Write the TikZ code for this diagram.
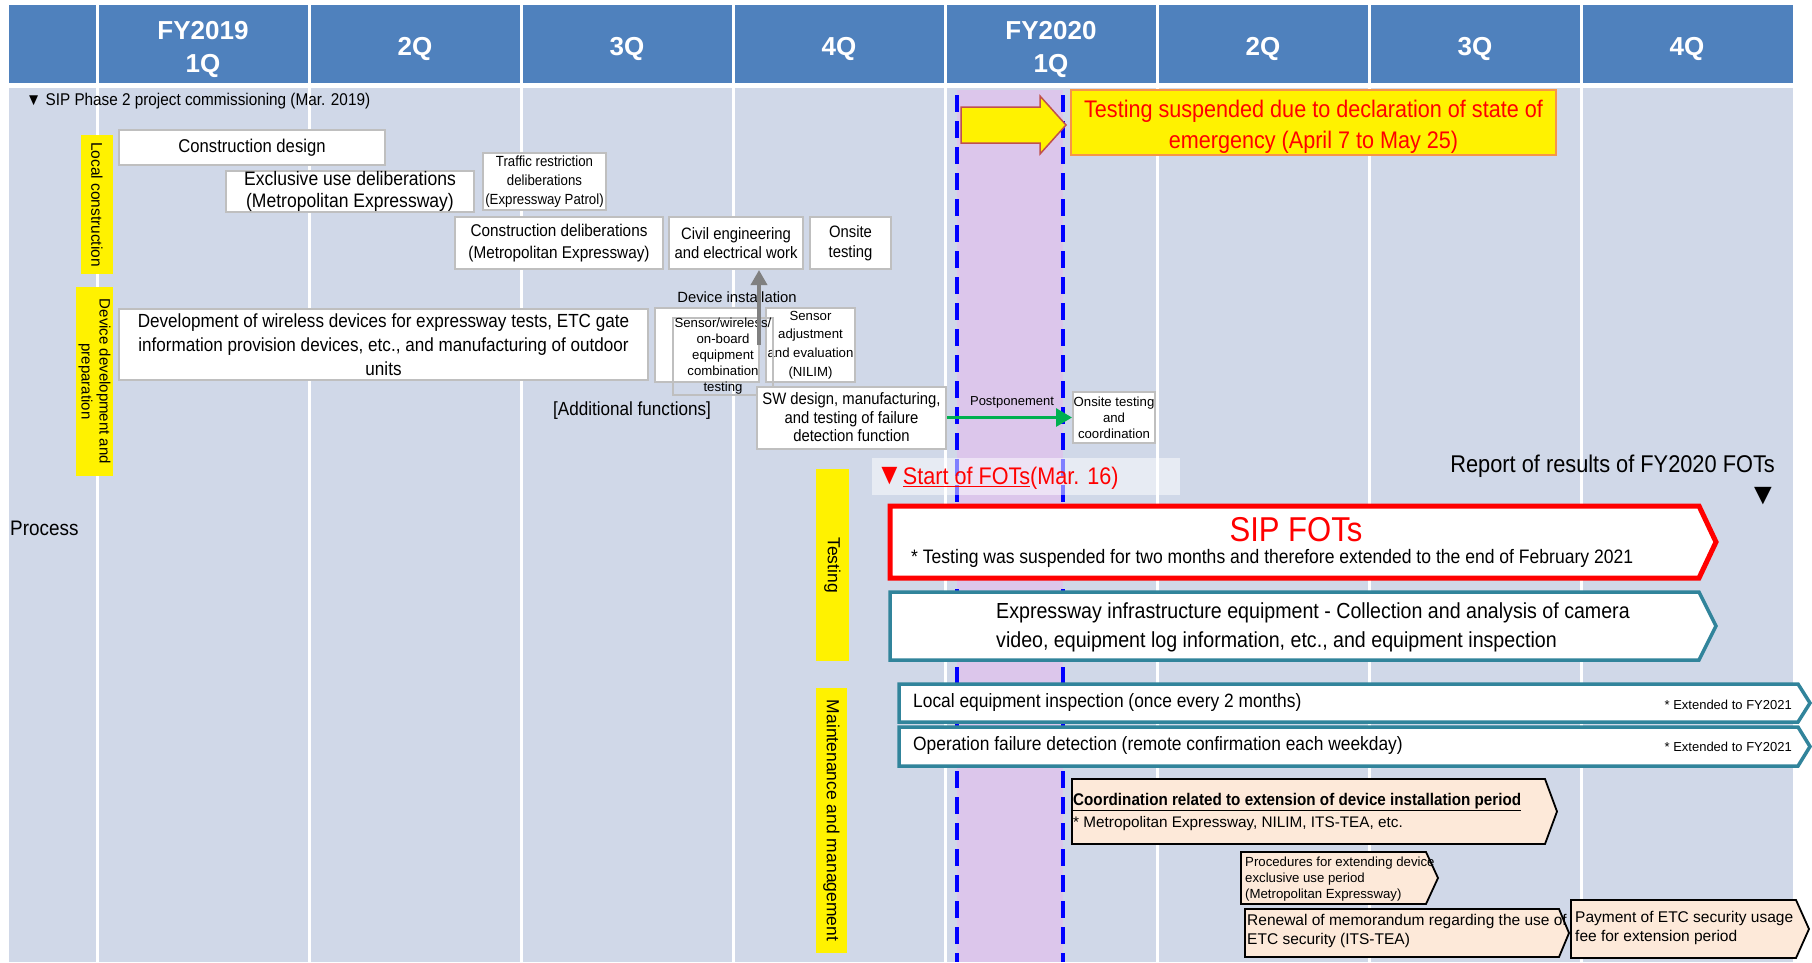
\documentclass[tikz,border=0pt]{standalone}
\usepackage{fontspec}
\setmainfont{Liberation Sans}
\newfontfamily\nfont[FakeStretch=0.9]{Liberation Sans}
\usetikzlibrary{arrows.meta}
\definecolor{hdrblue}{RGB}{79,129,189}
\definecolor{bodybg}{RGB}{208,216,232}
\definecolor{suspend}{RGB}{220,198,235}
\definecolor{boxgray}{RGB}{191,191,191}
\definecolor{notebrd}{RGB}{247,150,70}
\definecolor{arrbrd}{RGB}{192,80,77}
\definecolor{fotteal}{RGB}{49,132,155}
\definecolor{peach}{RGB}{253,233,217}
\definecolor{postgreen}{RGB}{0,176,80}
\newcommand{\fsz}[2]{\fontsize{#1}{#2}\selectfont}
% arrow-shaped box: style, left, top, body end, tip, bottom
\newcommand{\chev}[6]{\draw[#1] (#2,#3) -- (#4,#3) -- (#5,{(#3+#6)/2}) -- (#4,#6) -- (#2,#6) -- cycle;}
\tikzset{
  hdrtxt/.style={text=white, font=\bfseries\fsz{26}{33}, align=center, inner sep=0},
  tx/.style={inner sep=0, align=center},
  wbox/.style={draw=boxgray, line width=2, fill=white, align=center, inner sep=0},
  ylab/.style={fill=yellow, rotate=-90, inner sep=0, align=center},
  dashln/.style={blue, line width=3.5, dash pattern=on 17 off 9},
  sipchev/.style={draw=red, line width=5, fill=white},
  tealchev/.style={draw=fotteal, line width=3.5, fill=white},
  peachchev/.style={draw=black, line width=1.8, fill=peach},
}
\begin{document}
\begin{tikzpicture}[x=1pt,y=-1pt]
\useasboundingbox (0,0) rectangle (1812,962);
% table
\fill[hdrblue] (9,5) rectangle (1793,83);
\fill[bodybg] (9,88) rectangle (1793,962);
\foreach \cx in {97,309,...,1581}{
  \draw[white, line width=3] (\cx,5) -- (\cx,962);
}
\foreach \q [count=\i] in {{FY2019\\1Q},2Q,3Q,4Q,{FY2020\\1Q},2Q,3Q,4Q}
  \node[hdrtxt] (hq\i) at ({212*\i-9},49) {\q};

% suspension period
\fill[suspend] (957,90) rectangle (1063,962);
\draw[dashln] (957,95) -- (957,962);
\draw[dashln] (1063,95) -- (1063,962);

\node[tx, anchor=west, font=\nfont\fsz{17}{20}] (commis) at (26,101) {▼ SIP Phase 2 project commissioning (Mar. 2019)};
\node[tx, anchor=west, font=\nfont\fsz{21}{25}] (process) at (10,528) {Process};

% yellow labels
\node[ylab, minimum width=139, minimum height=32, font=\fsz{15.5}{19}] (lblocal) at (97,204.5) {Local construction};
\node[ylab, minimum width=189, minimum height=37, font=\fsz{15}{18}] (lbldev) at (94.5,381.5) {Device development and\\preparation};
\node[ylab, minimum width=192, minimum height=33, font=\fsz{17.5}{21}] (lbltest) at (832.5,565) {Testing};
\node[ylab, minimum width=265, minimum height=31, font=\fsz{17.5}{21}] (lblmaint) at (831.5,820.5) {Maintenance and management};

% local construction
\node[wbox, minimum width=266, minimum height=35, font=\nfont\fsz{18.5}{22}] (cdesign) at (252,147.5) {Construction design};
\node[wbox, minimum width=248, minimum height=41, font=\nfont\fsz{19.5}{22}] (exuse) at (350,191.5) {Exclusive use deliberations\\(Metropolitan Expressway)};
\node[wbox, minimum width=123, minimum height=57, font=\nfont\fsz{14.7}{19}] (traffic) at (544.5,181.5) {Traffic restriction\\deliberations\\(Expressway Patrol)};
\node[wbox, minimum width=208, minimum height=52, font=\nfont\fsz{17}{22}] (cdelib) at (559,243) {Construction deliberations\\(Metropolitan Expressway)};
\node[wbox, minimum width=134, minimum height=52, font=\nfont\fsz{16.5}{19.5}] (civil) at (736,243) {Civil engineering\\and electrical work};
\node[wbox, minimum width=81, minimum height=52, font=\nfont\fsz{16.5}{19.5}] (onsite) at (850.5,243) {Onsite\\testing};

% device development
\node[wbox, minimum width=529, minimum height=71, font=\nfont\fsz{19}{24}] (devbox) at (383.5,344.5) {Development of wireless devices for expressway tests, ETC gate\\information provision devices, etc., and manufacturing of outdoor\\units};
\node[tx, font=\fsz{14.8}{18}] (devinst) at (737,297) {Device installation};
\node[wbox, minimum width=104, minimum height=74] (sensorbg) at (707,345) {};
\node[wbox, minimum width=89, minimum height=74, font=\fsz{13.2}{18.7}] (sensoradj) at (810.5,345) {Sensor\\adjustment\\and evaluation\\(NILIM)};
\node[draw=boxgray, line width=2, tx, minimum width=100, minimum height=73, font=\fsz{13.2}{16}] (combtest) at (723,356.5) {Sensor/wireless/\\on-board\\equipment\\combination\\testing};
\node[wbox, minimum width=189, minimum height=62, font=\nfont\fsz{16.5}{18.5}] (swdesign) at (851.5,417.5) {SW design, manufacturing,\\and testing of failure\\detection function};
\node[tx, font=\nfont\fsz{19}{22}] (addfunc) at (632,411) {[Additional functions]};
\coordinate (instfoot) at (759,345);
\draw[gray, line width=3.5, -{Triangle[width=16pt,length=15pt]}] (instfoot) -- (instfoot |- civil.south);
\node[wbox, minimum width=82, minimum height=51, font=\fsz{13.2}{16}] (onsite2) at (1114,417.5) {Onsite testing\\and\\coordination};
\draw[postgreen, line width=3, -{Triangle[width=18pt,length=16pt]}] (swdesign.east) -- (onsite2.west);
\node[tx, font=\fsz{13}{16}] (postpone) at (1012,402) {Postponement};

% suspension note
\draw[draw=arrbrd, line width=1.5, fill=yellow] (961,107) -- (1040,107) -- (1040,96) -- (1066,125) -- (1040,154) -- (1040,143) -- (961,143) -- cycle;
\node[draw=notebrd, line width=2, fill=yellow, minimum width=485, minimum height=65, inner sep=0] (suspbox) at (1313.5,122.5) {};
\node[tx, text=red, font=\nfont\fsz{24}{31}] (suspnote) at (1313.5,126.5) {Testing suspended due to declaration of state of\\emergency (April 7 to May 25)};

% testing
\node[fill=white, fill opacity=0.5, minimum width=308, minimum height=37, inner sep=0] (startbox) at (1026,476.5) {};
\node[tx, anchor=west, text=red, font=\nfont\fsz{24}{28}] (startfots) at (876,478) {{\fsz{30}{28}▼}\underline{Start of FOTs}(Mar. 16)};
\node[tx, anchor=east, font=\nfont\fsz{24.2}{28}] (report) at (1775,466) {Report of results of FY2020 FOTs};
\node[tx, font=\fsz{30}{30}] (reportmark) at (1763,496) {▼};
\chev{sipchev}{890}{506}{1699}{1716}{578}
\node[tx, text=red, font=\nfont\fsz{34.5}{40}] (siptitle) at (1296,530) {SIP FOTs};
\node[tx, anchor=west, font=\nfont\fsz{19.5}{23}] (sipnote) at (911,558) {* Testing was suspended for two months and therefore extended to the end of February 2021};
\chev{tealchev}{890}{592}{1699}{1716}{660}
\node[tx, anchor=west, align=left, font=\nfont\fsz{21.8}{29}] (exptxt) at (996,627) {Expressway infrastructure equipment - Collection and analysis of camera\\video, equipment log information, etc., and equipment inspection};

% maintenance and management
\chev{tealchev}{899}{684}{1798}{1810}{722}
\chev{tealchev}{899}{727}{1798}{1810}{766}
\node[tx, anchor=west, font=\nfont\fsz{19.3}{23}] (localtxt) at (913,702) {Local equipment inspection (once every 2 months)};
\node[tx, anchor=west, font=\nfont\fsz{19.3}{23}] (opertxt) at (913,745) {Operation failure detection (remote confirmation each weekday)};
\node[tx, anchor=east, font=\fsz{13}{16}] (ext1) at (1792,705) {* Extended to FY2021};
\node[tx, anchor=east, font=\fsz{13}{16}] (ext2) at (1792,747) {* Extended to FY2021};
\chev{peachchev}{1072}{779}{1545}{1557}{844}
\node[tx, anchor=west, font=\nfont\bfseries\fsz{16.9}{19}] (coordtxt) at (1073,802) {\underline{Coordination related to extension of device installation period}};
\node[tx, anchor=west, font=\fsz{15.3}{18}] (coordnote) at (1073,824) {* Metropolitan Expressway, NILIM, ITS-TEA, etc.};
\chev{peachchev}{1241}{852}{1426}{1438}{904}
\node[tx, anchor=west, align=left, font=\fsz{13.2}{16}] (proctxt) at (1245,879) {Procedures for extending device\\exclusive use period\\(Metropolitan Expressway)};
\chev{peachchev}{1245}{909}{1559}{1569}{957}
\node[tx, anchor=west, align=left, font=\fsz{15.5}{18.5}] (renewtxt) at (1247,931) {Renewal of memorandum regarding the use of\\ETC security (ITS-TEA)};
\chev{peachchev}{1571}{900}{1796}{1809}{958}
\node[tx, anchor=west, align=left, font=\fsz{15.5}{19}] (paytxt) at (1575,928) {Payment of ETC security usage\\fee for extension period};
\end{tikzpicture}
\end{document}
